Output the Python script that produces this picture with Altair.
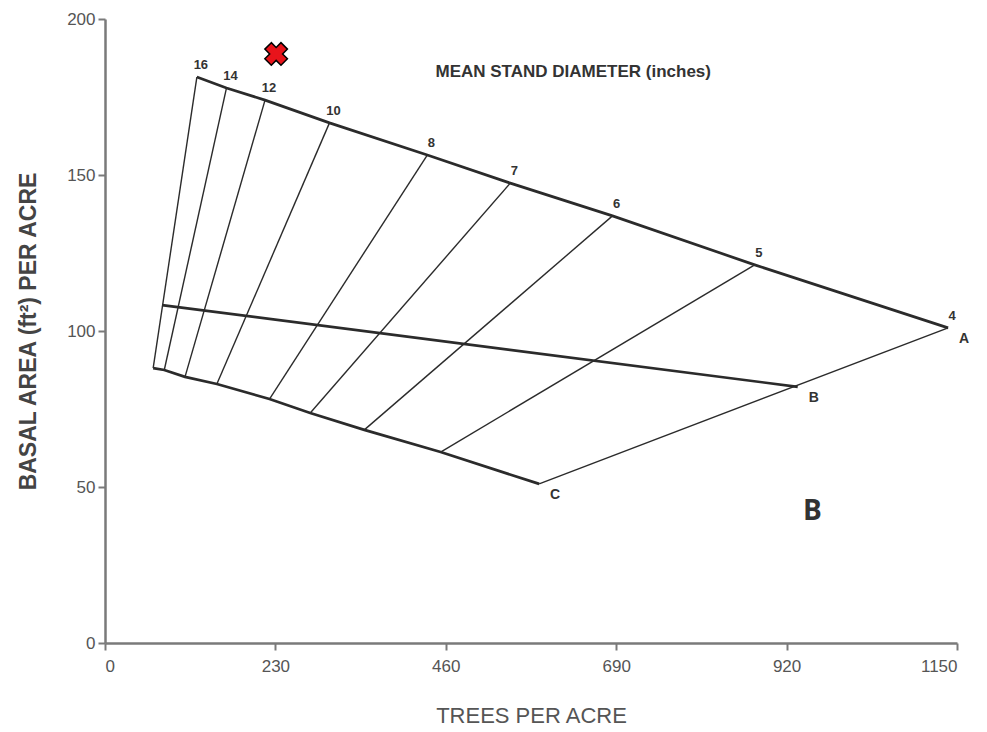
import altair as alt
import pandas as pd

# Mean stand diameter (inches) for each guide line
diameters = [16, 14, 12, 10, 8, 7, 6, 5, 4]
# Upper (A) line: trees per acre and basal area at each diameter
top_tpa = [124, 164, 216, 303, 435, 547, 685, 877, 1138]
top_ba = [181.4, 177.9, 174.0, 166.7, 156.4, 147.4, 136.9, 121.2, 101.0]
# Lower (C) line
bottom_tpa = [65, 80, 108, 151, 222, 277, 350, 453, 586]
bottom_ba = [88.1, 87.5, 85.3, 83.0, 78.2, 73.7, 68.3, 61.2, 51.0]
# B line
b_line_tpa = [77, 935]
b_line_ba = [108.3, 82.1]
# Corner letters
corner_labels = ["A", "B", "C"]
corner_tpa = [1138, 935, 586]
corner_ba = [101.0, 82.1, 51.0]
# Axis ticks
x_ticks = [0, 230, 460, 690, 920, 1150]
y_ticks = [0, 50, 100, 150, 200]
# Annotations
title_text = "MEAN STAND DIAMETER (inches)"
title_pos = (632, 183)
panel_letter = "B"
panel_pos = (955, 42)
marker_pos = (231, 188.8)

INK = "#2b2b2b"
AXIS = "#7a7a7a"
NARROW = "Liberation Sans Narrow, Arial Narrow, Liberation Sans, Arial"

top_df = pd.DataFrame({"tpa": top_tpa, "ba": top_ba, "i": range(len(top_tpa)),
                       "d": [str(d) for d in diameters]})
bot_df = pd.DataFrame({"tpa": bottom_tpa, "ba": bottom_ba, "i": range(len(bottom_tpa))})
b_df = pd.DataFrame({"tpa": b_line_tpa, "ba": b_line_ba, "i": range(len(b_line_tpa))})
rules_df = pd.DataFrame({"tpa": top_tpa, "ba": top_ba, "tpa2": bottom_tpa, "ba2": bottom_ba})
corner_df = pd.DataFrame({"tpa": corner_tpa, "ba": corner_ba, "lab": corner_labels})
title_df = pd.DataFrame({"tpa": [title_pos[0]], "ba": [title_pos[1]], "t": [title_text]})
panel_df = pd.DataFrame({"tpa": [panel_pos[0]], "ba": [panel_pos[1]], "t": [panel_letter]})
marker_df = pd.DataFrame({"tpa": [marker_pos[0]], "ba": [marker_pos[1]]})

xscale = alt.Scale(domain=[0, 1150], nice=False, zero=False)
yscale = alt.Scale(domain=[0, 200], nice=False, zero=False)

x_axis = alt.Axis(values=x_ticks, format="d", title="TREES PER ACRE", grid=False,
                  domainColor=AXIS, domainWidth=2.5, tickColor=AXIS, tickWidth=2,
                  tickSize=7, labelPadding=8, labelFontSize=17, labelColor="#555555",
                  labelFont=NARROW, titleFont=NARROW, titleFontSize=22,
                  titleFontWeight="normal", titleColor="#555555", titlePadding=31)
y_axis = alt.Axis(values=y_ticks, format="d", title="BASAL AREA (ft²) PER ACRE", grid=False,
                  domainColor=AXIS, domainWidth=2.5, tickColor=AXIS, tickWidth=2,
                  tickSize=7, labelPadding=3, labelFontSize=17, labelColor="#555555",
                  labelFont=NARROW, titleFont="Liberation Sans, Arial", titleFontSize=23,
                  titleFontWeight="bold", titleColor="#444444", titlePadding=26)

X = alt.X("tpa:Q", scale=xscale, axis=x_axis)
Y = alt.Y("ba:Q", scale=yscale, axis=y_axis)
Xn = alt.X("tpa:Q", scale=xscale)
Yn = alt.Y("ba:Q", scale=yscale)

top_line = alt.Chart(top_df).mark_line(color=INK, strokeWidth=2.7).encode(x=X, y=Y, order="i:Q")
bot_line = alt.Chart(bot_df).mark_line(color=INK, strokeWidth=2.7).encode(x=Xn, y=Yn, order="i:Q")
b_line = alt.Chart(b_df).mark_line(color=INK, strokeWidth=2.7).encode(x=Xn, y=Yn, order="i:Q")
rules = alt.Chart(rules_df).mark_rule(color=INK, strokeWidth=1.4).encode(
    x=Xn, y=Yn, x2="tpa2:Q", y2="ba2:Q")
d_labels = alt.Chart(top_df).mark_text(
    font="Liberation Sans, Arial", fontWeight="bold", fontSize=13, color="#333333",
    dx=4, dy=-12).encode(x=Xn, y=Yn, text="d:N")
c_labels = alt.Chart(corner_df).mark_text(
    font="Liberation Sans, Arial", fontWeight="bold", fontSize=14, color="#333333",
    dx=16, dy=11).encode(x=Xn, y=Yn, text="lab:N")
title = alt.Chart(title_df).mark_text(
    font=NARROW, fontWeight="bold", fontSize=17, color="#333333").encode(x=Xn, y=Yn, text="t:N")
panel = alt.Chart(panel_df).mark_text(
    font="Open Sans, Liberation Sans", fontWeight="bold", fontSize=28, color="#333333").encode(
    x=Xn, y=Yn, text="t:N")
marker = alt.Chart(marker_df).mark_point(
    shape="cross", filled=True, fill="#e8141b", stroke="black", strokeWidth=1.5,
    size=520, angle=45, opacity=1).encode(x=Xn, y=Yn)

chart = alt.layer(top_line, bot_line, b_line, rules, d_labels, c_labels, title, panel, marker).properties(
    width=852, height=624,
    autosize=alt.AutoSizeParams(type="none"),
    padding={"left": 97, "top": 11, "right": 20, "bottom": 86},
).configure_view(stroke=None)

chart.save("out.html", embed_options={"renderer": "svg", "actions": False})
